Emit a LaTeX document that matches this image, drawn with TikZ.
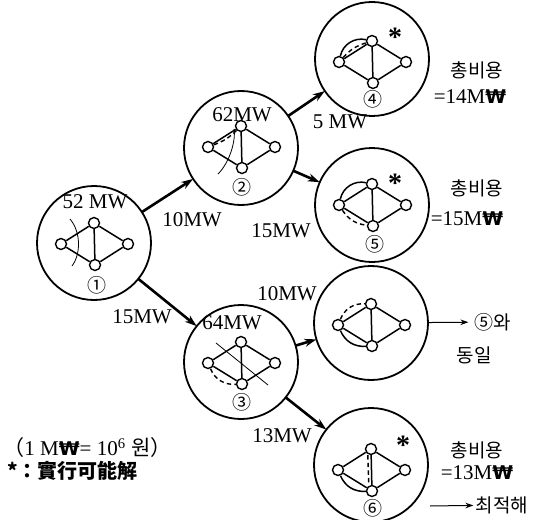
\documentclass[tikz,border=0pt]{standalone}
\usepackage{fontspec}
\setmainfont{Liberation Serif}
\newfontfamily\krfont{Noto Sans CJK KR}
\newfontfamily\wonfont[Scale=0.9]{DejaVu Sans}
\usetikzlibrary{arrows.meta}
\newcommand{\wonsign}{{\wonfont\bfseries ₩}}
\begin{document}
\begin{tikzpicture}[x=0.5pt, y=-0.5pt,
  stage/.style={draw, circle, line width=0.9pt, minimum size=57pt, inner sep=0pt, outer sep=0pt},
  vtx/.style={draw, circle, fill=white, line width=0.7pt, minimum size=5.5pt, inner sep=0pt},
  link/.style={line width=0.75pt},
  aux/.style={line width=0.7pt, dash pattern=on 2.2pt off 1.6pt},
  cutline/.style={line width=0.4pt},
  arrow/.style={-{Stealth[length=6pt,width=4pt]}, line width=1.3pt},
  thinarrow/.style={-{Stealth[length=4pt,width=2.8pt]}, line width=0.5pt},
  mw/.style={font=\fontsize{10.5}{12}\selectfont, inner sep=1pt},
  num/.style={font=\krfont\fontsize{9.5}{10}\selectfont, inner sep=0pt},
  kr/.style={font=\krfont\fontsize{9.5}{11}\selectfont, inner sep=1pt},
  feas/.style={font=\fontsize{14}{14}\selectfont\bfseries, inner sep=0pt}
]
\useasboundingbox (0,0) rectangle (535,519);
% stages of the search tree, each with its network
\foreach \i/\x/\y/\d in {1/94/243/244, 2/241/148/147, 3/241/362/363, 4/372/59/62,
                         5/372/205/205, 6/371/465/470, 7/371/323/325} {
  \node[stage] (c\i) at (\x,\y) {};
  \node[vtx] (l\i) at (\x-33,\d) {};
  \node[vtx] (t\i) at (\x,\d-21) {};
  \node[vtx] (b\i) at (\x+1,\d+21) {};
  \node[vtx] (r\i) at (\x+34,\d) {};
  \draw[link] (l\i) -- (t\i) -- (r\i) -- (b\i) -- (l\i) (t\i) -- (b\i);
}
\node[num] (k1) at (97,285) {①};
\node[num] (k2) at (242,187) {②};
\node[num] (k3) at (242,402) {③};
\node[num] (k4) at (373,99) {④};
\node[num] (k5) at (375,244) {⑤};
\node[num] (k6) at (373,508) {⑥};
\node[mw] (load1) at (95,202) {52 MW};
\node[mw] (load2) at (242,115) {62MW};
\node[mw] (load3) at (232,323) {64MW};
% cuts and extra lines
\draw[cutline] (70,219) .. controls (81,232) and (81,254) .. (72,266);
\draw[cutline] (234,129) .. controls (236,140) and (230,162) .. (218,174);
\draw[aux] (l2) to[bend right=12] (t2);
\draw[cutline] (216,343) -- (268,385);
\draw[aux] (l3) to[bend right=35] (b3);
\draw[link] (l4) to[bend left=45] (t4);
\draw[aux] (l4) to[bend left=15] (t4);
\draw[link] (l5) to[bend left=45] (t5);
\draw[aux] (l5) to[bend right=25] (b5);
\draw[aux] (l7) to[bend left=35] (t7);
\draw[link] (l7) to[bend right=35] (b7);
\draw[link] (l6) to[bend right=35] (b6);
\draw[aux] ([xshift=-1.6pt]t6.south) -- ([xshift=-1.6pt]b6.north);
\node[feas] (f4) at (395,37) {*};
\node[feas] (f5) at (395,183) {*};
\node[feas] (f6) at (403,445) {*};
% branches
\draw[arrow] (c1) -- (c2);
\draw[arrow] (c1) -- (c3);
\draw[arrow] (c2) -- (c4);
\draw[arrow] (c2) -- (c5);
\draw[arrow] (c3) -- (c7);
\draw[arrow] (c3) -- (c6);
\node[mw] (w12) at (192,220) {10MW};
\node[mw] (w13) at (142,317) {15MW};
\node[mw] (w24) at (340,122) {5 MW};
\node[mw] (w25) at (281,231) {15MW};
\node[mw] (w37) at (287,294) {10MW};
\node[mw] (w36) at (282,436) {13MW};
% results
\node[kr] (tot4) at (477,70) {총비용};
\node[mw] (cost4) at (470,97) {=14M\wonsign};
\node[kr] (tot5) at (477,188) {총비용};
\node[mw] (cost5) at (467,219) {=15M\wonsign};
\node[kr] (same7) at (493,322) {⑤와};
\node[kr] (same7b) at (474,355) {동일};
\node[kr] (tot6) at (477,450) {총비용};
\node[mw] (cost6) at (477,473) {=13M\wonsign};
\node[kr] (opt) at (502,505) {최적해};
\coordinate (optfrom) at (430,506);
\draw[thinarrow, shorten >=2pt] (c7) -- (same7);
\draw[thinarrow] (optfrom) -- (opt);
% legend
\node[mw, inner sep=0pt, anchor=west] (unit) at (3,448) {{\krfont （}1 M\wonsign= 10\textsuperscript{6}\ {\krfont 원）}};
\node[mw, inner sep=0pt, font=\krfont\fontsize{10}{11}\selectfont, anchor=west] (note) at (7,471) {\bfseries *：實行可能解};
\end{tikzpicture}
\end{document}
